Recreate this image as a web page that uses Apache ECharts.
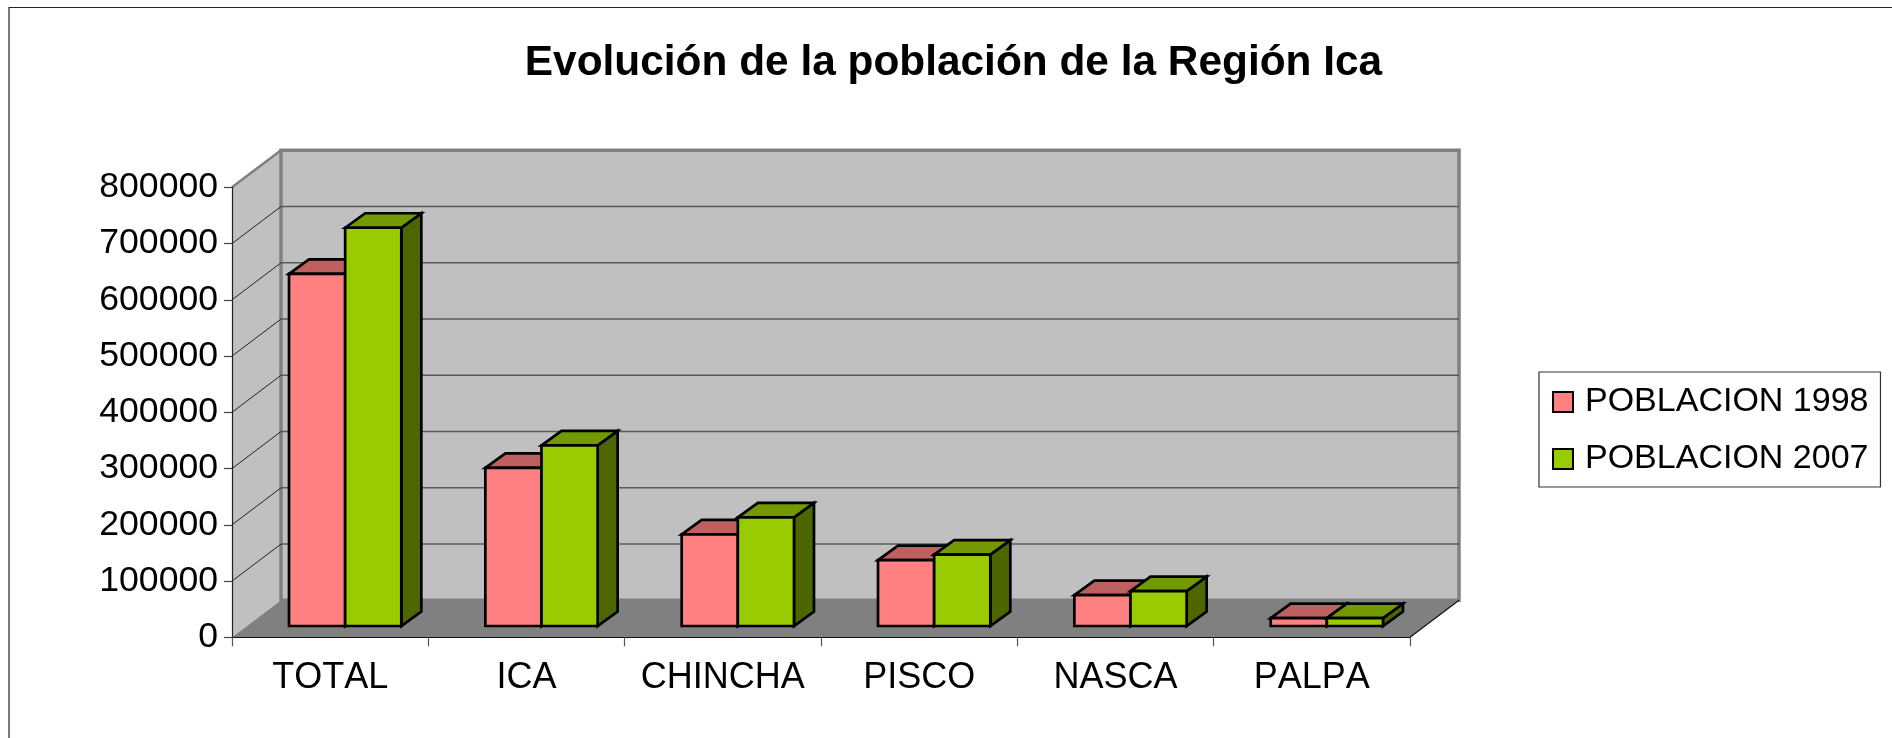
<!DOCTYPE html>
<html><head><meta charset="utf-8">
<style>html,body{margin:0;padding:0;background:#fff}#c{width:1892px;height:738px}</style>
<script src="https://cdn.jsdelivr.net/npm/echarts@6/dist/echarts.min.js"></script>
</head><body><div id="c"></div>
<script>
const titleText = 'Evolución de la población de la Región Ica';
const categories = ['TOTAL','ICA','CHINCHA','PISCO','NASCA','PALPA'];
const poblacion1998 = [626000, 281000, 163000, 117000, 55000, 14000];
const poblacion2007 = [708000, 321000, 193000, 127000, 62000, 14000];
const yTicks = [0,100000,200000,300000,400000,500000,600000,700000,800000];
const names = ['POBLACION 1998','POBLACION 2007'];

// The reference text is set without kerning.
['fillText','measureText'].forEach(fn => {
  const orig = CanvasRenderingContext2D.prototype[fn];
  CanvasRenderingContext2D.prototype[fn] = function(){ this.fontKerning = 'none'; return orig.apply(this, arguments); };
});

const FONT = '"Liberation Sans", Arial, sans-serif';
const WALL = {dx:49, dy:-37};
const BAR = {inset:{dx:15, dy:-11.3}, depth:{dx:20, dy:-14.5}, widthRatio:0.286};

function wallItem(params, api){
  const cs = params.coordSys, v = api.value(0);
  const L = cs.x, R = cs.x + cs.width, y = api.coord([0, v])[1];
  const kids = [];
  if (params.dataIndex === 0) {
    const T = cs.y, B = cs.y + cs.height;
    kids.push({type:'polygon', shape:{points:[[L,T],[L+WALL.dx,T+WALL.dy],[L+WALL.dx,B+WALL.dy],[L,B]]}, style:{fill:'#c0c0c0'}});
    kids.push({type:'rect', shape:{x:L+WALL.dx,y:T+WALL.dy,width:R-L,height:B-T}, style:{fill:'#c0c0c0',stroke:'#808080',lineWidth:3.5}});
    kids.push({type:'line', shape:{x1:L,y1:T,x2:L+WALL.dx,y2:T+WALL.dy}, style:{stroke:'#808080',lineWidth:2.5}});
    kids.push({type:'polygon', shape:{points:[[L,B],[L+WALL.dx,B+WALL.dy],[R+WALL.dx,B+WALL.dy],[R,B]]}, style:{fill:'#808080'}});
    kids.push({type:'line', shape:{x1:R,y1:B,x2:R+WALL.dx,y2:B+WALL.dy}, style:{stroke:'#111',lineWidth:1.2}});
  } else if (v < yTicks[yTicks.length-1]) {
    kids.push({type:'line', shape:{x1:L,y1:y,x2:L+WALL.dx,y2:y+WALL.dy}, style:{stroke:'#222',lineWidth:1}});
    kids.push({type:'line', shape:{x1:L+WALL.dx,y1:y+WALL.dy,x2:R+WALL.dx,y2:y+WALL.dy}, style:{stroke:'#5a5a5a',lineWidth:1.5}});
  }
  return {type:'group', children:kids};
}
function barItem(seriesPos, colors){
  return function(params, api){
    const cat = api.value(0), val = api.value(1);
    const base = api.coord([cat,0]), top = api.coord([cat,val]);
    const band = api.size([1,0])[0], w = band*BAR.widthRatio;
    const x0 = base[0] + (seriesPos-1)*w + BAR.inset.dx, x1 = x0 + w;
    const yb = base[1] + BAR.inset.dy, yt = top[1] + BAR.inset.dy;
    const dx = BAR.depth.dx, dy = BAR.depth.dy;
    const st = f => ({fill:f, stroke:'#000', lineWidth:2.7, lineJoin:'miter'});
    return {type:'group', children:[
      {type:'polygon', shape:{points:[[x1,yt],[x1+dx,yt+dy],[x1+dx,yb+dy],[x1,yb]]}, style:st(colors.side)},
      {type:'polygon', shape:{points:[[x0,yt],[x0+dx,yt+dy],[x1+dx,yt+dy],[x1,yt]]}, style:st(colors.top)},
      {type:'rect', shape:{x:x0,y:yt,width:w,height:yb-yt}, style:st(colors.front)}
    ]};
  };
}
const pink = {front:'#ff8080', top:'#bf6060', side:'#804040'};
const green = {front:'#99cc00', top:'#739900', side:'#4d6600'};
const chart = echarts.init(document.getElementById('c'), null, {renderer:'canvas'});
chart.setOption({
  animation:false,
  backgroundColor:'#fff',
  textStyle:{fontFamily:FONT},
  title:{text:titleText, left:948.5, top:37, textAlign:'center',
    textStyle:{fontFamily:FONT,fontWeight:'bold',fontSize:42.4,color:'#000'}},
  grid:{left:232, top:187.3, width:1178, height:450, containLabel:false},
  xAxis:{type:'category', data:categories, boundaryGap:true, z:5,
    axisLine:{lineStyle:{color:'#111',width:1.2}},
    axisTick:{show:true,length:9,interval:0,lineStyle:{color:'#555',width:1.2}},
    axisLabel:{interval:0,margin:23,fontSize:36,color:'#000',fontFamily:FONT},
    splitLine:{show:false}},
  yAxis:{type:'value', min:0, max:800000, interval:100000, z:5,
    axisLine:{show:true,lineStyle:{color:'#222',width:1.2}},
    axisTick:{show:true,length:8,lineStyle:{color:'#444',width:1.2}},
    axisLabel:{margin:14,fontSize:35.6,color:'#000',fontFamily:FONT,formatter:v=>String(v)},
    splitLine:{show:false}},
  legend:{orient:'vertical', left:1539, top:372,
    padding:[13,12,11,13], itemGap:23, itemWidth:20, itemHeight:20,
    backgroundColor:'#fff', borderColor:'#333', borderWidth:1.2, align:'left',
    textStyle:{fontSize:34,color:'#000',fontFamily:FONT,padding:[0,0,0,7]},
    data:[
      {name:names[0], icon:'rect', itemStyle:{color:pink.front,borderColor:'#000',borderWidth:2}},
      {name:names[1], icon:'rect', itemStyle:{color:green.front,borderColor:'#000',borderWidth:2}}
    ]},
  series:[
    {type:'custom', name:'paredes', silent:true, z:1, clip:false, data:yTicks.map(v=>[v]), encode:{y:0}, renderItem:wallItem},
    {type:'custom', name:names[0], z:2, clip:false, itemStyle:{color:pink.front},
      data:poblacion1998.map((v,i)=>[i,v]), encode:{x:0,y:1}, renderItem:barItem(0,pink)},
    {type:'custom', name:names[1], z:3, clip:false, itemStyle:{color:green.front},
      data:poblacion2007.map((v,i)=>[i,v]), encode:{x:0,y:1}, renderItem:barItem(1,green)}
  ],
  graphic:[{type:'rect', z:-1, silent:true, shape:{x:9,y:7.5,width:2400,height:1400}, style:{fill:'none',stroke:'#222',lineWidth:1.2}}]
});
</script></body></html>
